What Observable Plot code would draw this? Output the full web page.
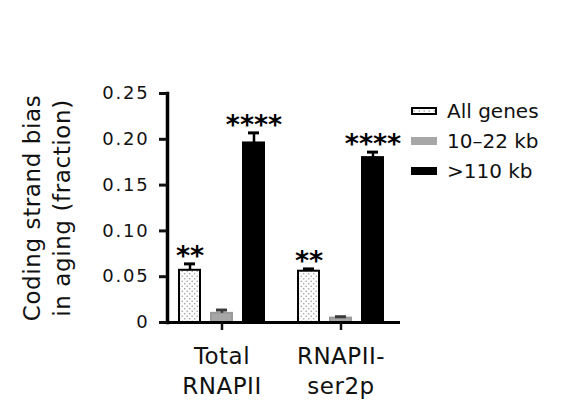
<!DOCTYPE html>
<html>
<head>
<meta charset="utf-8">
<script src="https://cdn.jsdelivr.net/npm/d3@7"></script>
<script src="https://cdn.jsdelivr.net/npm/@observablehq/plot@0.6"></script>
<style>
  html, body { margin: 0; padding: 0; background: #fff; }
  #wrap { position: relative; width: 571px; height: 409px; font-family: "DejaVu Sans", sans-serif; }
  #wrap svg text { font-family: "DejaVu Sans", sans-serif; }
  #legend { position: absolute; left: 411px; top: 96px; }
  .row { display: flex; align-items: center; height: 30px; font-size: 20px; color: #111; }
  .sw { width: 26px; height: 8px; margin-right: 10px; box-sizing: border-box; }
</style>
</head>
<body>
<div id="wrap"></div>
<script>
// ---- data ----
const groups = ["Total RNAPII", "RNAPII-ser2p"];
const groupLabels = ["Total\nRNAPII", "RNAPII-\nser2p"];
const series = ["All genes", "10–22 kb", ">110 kb"];
const totalMeans = [0.057, 0.010, 0.196];
const totalErrors = [0.007, 0.0036, 0.011];
const ser2pMeans = [0.056, 0.0048, 0.180];
const ser2pErrors = [0.0025, 0.0015, 0.006];
const totalStars = ["**", "", "****"];
const ser2pStars = ["**", "", "****"];
const yTicks = [0, 0.05, 0.10, 0.15, 0.20, 0.25];
const yLabel = "Coding strand bias\nin aging (fraction)";

// ---- styles ----
const fills = ["url(#dots)", "#a6a6a6", "#000000"];
const strokes = ["#000000", "#9a9a9a", "#000000"];
const errColors = ["#000000", "#3a3a3a", "#000000"];

const means = [totalMeans, ser2pMeans];
const errs = [totalErrors, ser2pErrors];
const stars = [totalStars, ser2pStars];
const rows = groups.flatMap((g, gi) => series.map((s, si) => ({
  group: g, series: s, mean: means[gi][si], err: errs[gi][si], stars: stars[gi][si]
})));

const chart = Plot.plot({
  width: 571,
  height: 409,
  marginTop: 93,
  marginBottom: 87,
  marginLeft: 166,
  marginRight: 175,
  style: {fontFamily: "DejaVu Sans, sans-serif", color: "#111", background: "#fff"},
  fx: {domain: groups, paddingInner: 0.0833, paddingOuter: 0, label: null, axis: null},
  x: {domain: series, paddingInner: 0.33, paddingOuter: 0.36, axis: null},
  y: {domain: [0, 0.25], axis: null},
  color: {domain: series, range: fills},
  marks: [
    Plot.barY(rows, {fx: "group", x: "series", y: "mean", fill: "series",
      stroke: d => strokes[series.indexOf(d.series)], strokeWidth: 2}),
    Plot.ruleX(rows, {fx: "group", x: "series", y1: "mean", y2: d => d.mean + d.err,
      stroke: d => errColors[series.indexOf(d.series)], strokeWidth: 2.5}),
    Plot.tickY(rows, {fx: "group", x: "series", y: d => d.mean + d.err,
      stroke: d => errColors[series.indexOf(d.series)], strokeWidth: 3, insetLeft: 5, insetRight: 5}),
    Plot.text(rows.filter(d => d.stars), {fx: "group", x: "series", y: d => d.mean + d.err,
      text: "stars", fontSize: 27, fontWeight: "bold", lineAnchor: "middle", dy: -8, fill: "#000"}),
    Plot.ruleY([0], {insetLeft: -5, insetRight: -5, strokeWidth: 3, stroke: "#000"}),
    Plot.frame({anchor: "left", facetAnchor: "left", strokeWidth: 3.5, stroke: "#000"}),
    Plot.axisY({ticks: yTicks, tickFormat: d => d === 0 ? "0" : d.toFixed(2), tickSize: 8,
      tickPadding: 10, strokeWidth: 3, fontSize: 18, className: "ytick", label: null, fill: "#111"}),
    Plot.axisFx({anchor: "bottom", tickSize: 8, tickPadding: 12, strokeWidth: 2.5,
      tickFormat: g => groupLabels[groups.indexOf(g)], fontSize: 23, lineHeight: 1.3, label: null,
      fill: "#111", className: "fxtick"}),
    Plot.text([yLabel], {fx: () => groups[0], frameAnchor: "left", rotate: -90, dx: -122,
      fontSize: 23, lineHeight: 1.3, textAnchor: "middle", lineAnchor: "middle", fill: "#111",
      className: "ylabel"})
  ]
});

// pattern for stippled bars
const defs = d3.select(chart).insert("defs", ":first-child");
const pat = defs.append("pattern").attr("id", "dots").attr("patternUnits", "userSpaceOnUse")
  .attr("width", 5).attr("height", 5);
pat.append("rect").attr("width", 5).attr("height", 5).attr("fill", "#fff");
pat.append("circle").attr("cx", 1.2).attr("cy", 1.2).attr("r", 0.8).attr("fill", "#9a9a9a");
pat.append("circle").attr("cx", 3.7).attr("cy", 3.7).attr("r", 0.8).attr("fill", "#9a9a9a");

const wrap = document.getElementById("wrap");
wrap.appendChild(chart);
d3.select(chart).selectAll("text").style("letter-spacing", function() {
  if (this.closest(".ytick")) return "1.8px";
  if (this.closest(".ylabel")) return "0.6px";
  if (this.closest(".fxtick")) return "0.5px";
  return null;
});

// legend
const legend = document.createElement("div");
legend.id = "legend";
const swStyles = [
  "border:2px solid #000;background: url('data:image/svg+xml;utf8,<svg xmlns=%22http://www.w3.org/2000/svg%22 width=%225%22 height=%224%22><rect width=%225%22 height=%224%22 fill=%22white%22/><circle cx=%221.2%22 cy=%222%22 r=%220.8%22 fill=%22%23999%22/></svg>');",
  "background:#a6a6a6;",
  "background:#000;"
];
series.forEach((s, i) => {
  const row = document.createElement("div");
  row.className = "row";
  const sw = document.createElement("div");
  sw.className = "sw";
  sw.setAttribute("style", swStyles[i]);
  const lab = document.createElement("span");
  lab.textContent = s;
  row.appendChild(sw);
  row.appendChild(lab);
  legend.appendChild(row);
});
wrap.appendChild(legend);
</script>
</body>
</html>
